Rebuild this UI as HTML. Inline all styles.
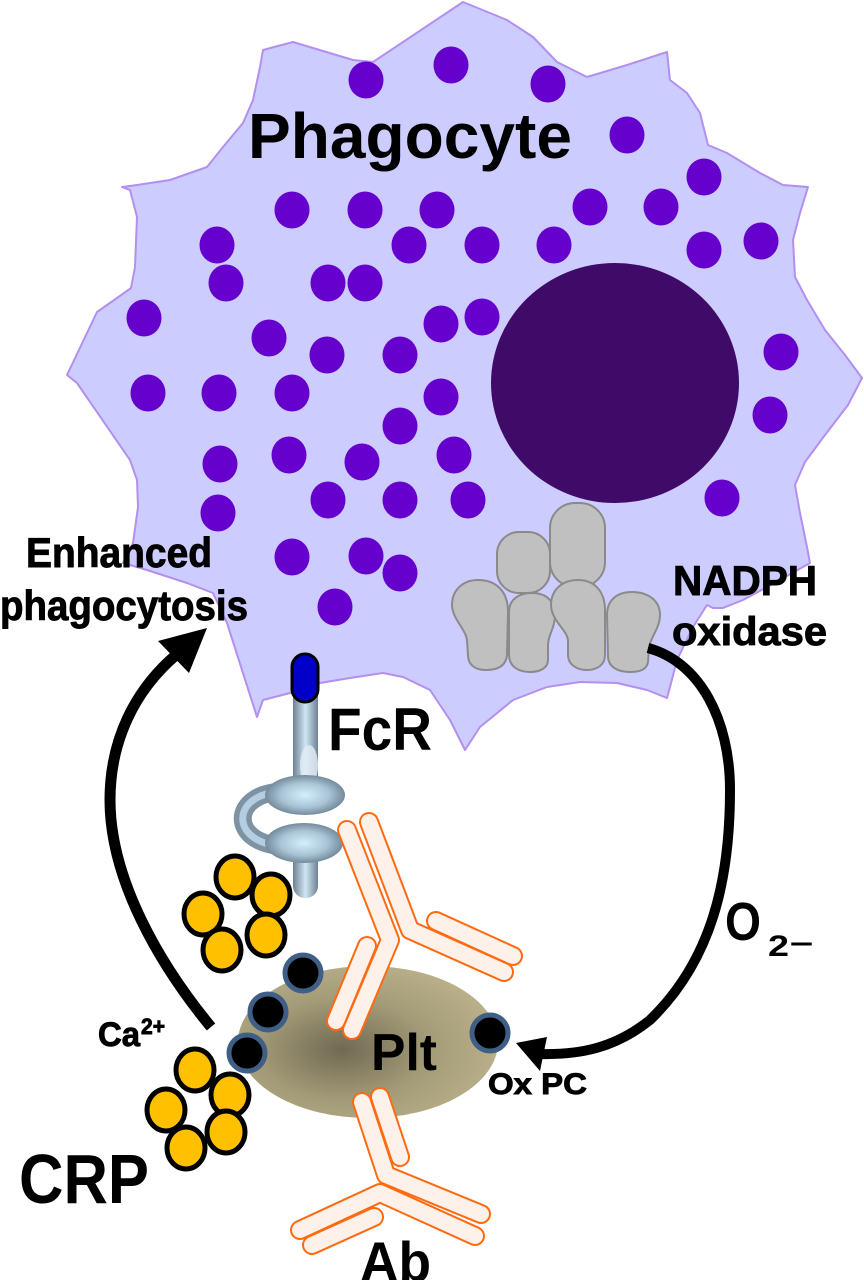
<!DOCTYPE html>
<html>
<head>
<meta charset="utf-8">
<style>
  html,body{margin:0;padding:0;background:#ffffff;}
  svg{display:block;}
  text{font-family:"Liberation Sans",Arial,sans-serif;font-weight:bold;fill:#000;}
  .hv{stroke:#000;stroke-width:0.9;}
</style>
</head>
<body>
<svg width="864" height="1280" viewBox="0 0 864 1280" xmlns="http://www.w3.org/2000/svg">
  <defs>
    <linearGradient id="stemG" x1="0" y1="0" x2="1" y2="0">
      <stop offset="0" stop-color="#6c8292"/>
      <stop offset="0.5" stop-color="#cfe6f5"/>
      <stop offset="1" stop-color="#6c8292"/>
    </linearGradient>
    <radialGradient id="discG" cx="0.5" cy="0.5" r="0.55">
      <stop offset="0" stop-color="#d4eefc"/>
      <stop offset="0.55" stop-color="#a9c4d6"/>
      <stop offset="1" stop-color="#667c8c"/>
    </radialGradient>
    <radialGradient id="pltG" cx="0.4" cy="0.55" r="0.6">
      <stop offset="0" stop-color="#716a53"/>
      <stop offset="0.55" stop-color="#a39a77"/>
      <stop offset="1" stop-color="#b9b08a"/>
    </radialGradient>
  </defs>

  <!-- Cell body -->
  <path d="M463,2 L507,20 L533,37 L557,62 L587,77 L627,65 L667,52 L670,80 L687,93 L700,113 L708,145 L727,153 L760,173 L783,185 L808,187 L800,213 L793,240 L795,277 L807,300 L825,330 L845,355 L862,378 L848,405 L825,435 L805,462 L795,485 L800,513 L807,547 L810,563 L780,580 L743,600 L723,608 L713,608 L707,605 L693,627 L677,660 L670,687 L667,698 L647,690 L617,683 L580,682 L547,687 L513,700 L480,727 L465,750 L450,720 L430,690 L403,677 L383,673 L350,678 L320,683 L290,693 L263,700 L257,717 L227,623 L213,593 L187,583 L147,570 L123,563 L133,543 L138,507 L137,480 L130,460 L77,383 L67,375 L97,312 L117,298 L131,288 L135,267 L137,217 L130,190 L122,187 L137,185 L170,180 L207,167 L223,147 L243,123 L253,100 L260,67 L263,50 L293,42 L353,60 L373,62 Z" fill="#ccccff" stroke="#b38ff0" stroke-width="2" stroke-linejoin="round"/>

  <!-- Granules -->
  <g fill="#6600cc">
    <ellipse cx="366" cy="80" rx="17.5" ry="18.5"/>
    <ellipse cx="451" cy="65" rx="17.5" ry="18.5"/>
    <ellipse cx="548" cy="84" rx="17.5" ry="18.5"/>
    <ellipse cx="627" cy="135" rx="17.5" ry="18.5"/>
    <ellipse cx="704" cy="177" rx="17.5" ry="18.5"/>
    <ellipse cx="292" cy="210" rx="17.5" ry="18.5"/>
    <ellipse cx="365" cy="210" rx="17.5" ry="18.5"/>
    <ellipse cx="437" cy="210" rx="17.5" ry="18.5"/>
    <ellipse cx="590" cy="207" rx="17.5" ry="18.5"/>
    <ellipse cx="661" cy="207" rx="17.5" ry="18.5"/>
    <ellipse cx="217" cy="245" rx="17.5" ry="18.5"/>
    <ellipse cx="409" cy="245" rx="17.5" ry="18.5"/>
    <ellipse cx="482" cy="245" rx="17.5" ry="18.5"/>
    <ellipse cx="554" cy="245" rx="17.5" ry="18.5"/>
    <ellipse cx="704" cy="250" rx="17.5" ry="18.5"/>
    <ellipse cx="761" cy="241" rx="17.5" ry="18.5"/>
    <ellipse cx="226" cy="283" rx="17.5" ry="18.5"/>
    <ellipse cx="328" cy="283" rx="17.5" ry="18.5"/>
    <ellipse cx="365" cy="283" rx="17.5" ry="18.5"/>
    <ellipse cx="144" cy="318" rx="17.5" ry="18.5"/>
    <ellipse cx="269" cy="338" rx="17.5" ry="18.5"/>
    <ellipse cx="327" cy="355" rx="17.5" ry="18.5"/>
    <ellipse cx="400" cy="355" rx="17.5" ry="18.5"/>
    <ellipse cx="441" cy="324" rx="17.5" ry="18.5"/>
    <ellipse cx="482" cy="317" rx="17.5" ry="18.5"/>
    <ellipse cx="781" cy="352" rx="17.5" ry="18.5"/>
    <ellipse cx="148" cy="393" rx="17.5" ry="18.5"/>
    <ellipse cx="219" cy="393" rx="17.5" ry="18.5"/>
    <ellipse cx="292" cy="393" rx="17.5" ry="18.5"/>
    <ellipse cx="441" cy="397" rx="17.5" ry="18.5"/>
    <ellipse cx="770" cy="415" rx="17.5" ry="18.5"/>
    <ellipse cx="400" cy="426" rx="17.5" ry="18.5"/>
    <ellipse cx="220" cy="464" rx="17.5" ry="18.5"/>
    <ellipse cx="289" cy="455" rx="17.5" ry="18.5"/>
    <ellipse cx="362" cy="462" rx="17.5" ry="18.5"/>
    <ellipse cx="454" cy="455" rx="17.5" ry="18.5"/>
    <ellipse cx="328" cy="500" rx="17.5" ry="18.5"/>
    <ellipse cx="400" cy="500" rx="17.5" ry="18.5"/>
    <ellipse cx="468" cy="500" rx="17.5" ry="18.5"/>
    <ellipse cx="218" cy="513" rx="17.5" ry="18.5"/>
    <ellipse cx="722" cy="498" rx="17.5" ry="18.5"/>
    <ellipse cx="292" cy="557" rx="17.5" ry="18.5"/>
    <ellipse cx="366" cy="556" rx="17.5" ry="18.5"/>
    <ellipse cx="400" cy="573" rx="17.5" ry="18.5"/>
    <ellipse cx="335" cy="607" rx="17.5" ry="18.5"/>
  </g>

  <!-- Nucleus -->
  <ellipse cx="615" cy="383" rx="124" ry="120" fill="#3f0a68"/>

  <!-- NADPH oxidase -->
  <g fill="#c0c0c0" stroke="#8a8a8a" stroke-width="2">
    <rect x="497" y="532" width="53" height="61" rx="22"/>
    <rect x="550" y="503" width="55" height="84" rx="25"/>
    <path d="M478,580 C495,580 508,590 508,612 L507,655 C506,666 498,670 486,670 C474,670 468,664 468,655 L467,640 C466,630 452,618 452,605 C452,590 463,580 478,580 Z"/>
    <path d="M532,593 C548,593 555,603 555,615 C555,628 548,635 548,645 L548,660 C548,668 540,672 530,672 C518,672 509,666 509,655 L509,612 C509,600 518,593 532,593 Z"/>
    <path d="M578,580 C595,580 605,592 605,610 L605,655 C605,665 597,670 587,670 C576,670 568,664 568,655 L568,640 C567,630 551,620 551,605 C551,590 562,580 578,580 Z"/>
    <path d="M632,592 C650,592 660,602 660,615 C660,628 650,638 649,648 L648,662 C647,669 640,672 630,672 C618,672 608,667 608,656 L607,615 C607,600 617,592 632,592 Z"/>
  </g>

  <!-- Labels in cell -->
  <text x="248" y="158" font-size="64" textLength="324" lengthAdjust="spacingAndGlyphs">Phagocyte</text>
  <text class="hv" x="26" y="567" font-size="42" textLength="186" lengthAdjust="spacingAndGlyphs">Enhanced</text>
  <text class="hv" x="0" y="620" font-size="42" textLength="248" lengthAdjust="spacingAndGlyphs">phagocytosis</text>
  <text class="hv" x="673" y="595" font-size="42" textLength="144" lengthAdjust="spacingAndGlyphs">NADPH</text>
  <text class="hv" x="672" y="645" font-size="40" textLength="155" lengthAdjust="spacingAndGlyphs">oxidase</text>

  <!-- Arrows -->
  <path d="M211,1027 C160,965 110,880 110,800 C110,740 135,690 176,655" fill="none" stroke="#000" stroke-width="11" stroke-linecap="butt"/>
  <polygon points="207,628 158,641 189,673" fill="#000"/>
  <path d="M648,648 C700,662 730,720 730,790 C730,880 712,960 650,1020 C615,1048 580,1055 540,1054" fill="none" stroke="#000" stroke-width="10"/>
  <polygon points="516,1043 547,1037 540,1071" fill="#000"/>

  <!-- FcR -->
  <rect x="293" y="850" width="25" height="48" rx="12" fill="url(#stemG)"/>
  <path d="M290,792 C228,788 226,848 290,846" fill="none" stroke="#7d93a3" stroke-width="18"/>
  <path d="M290,792 C228,788 226,848 290,846" fill="none" stroke="#b4cde0" stroke-width="7"/>
  <rect x="293" y="695" width="25" height="88" fill="url(#stemG)"/>
  <ellipse cx="309" cy="765" rx="9" ry="20" fill="#e2eef6" opacity="0.8"/>
  <ellipse cx="305" cy="795" rx="40" ry="20" fill="url(#discG)"/>
  <ellipse cx="304" cy="843" rx="39" ry="20" fill="url(#discG)"/>
  <rect x="292" y="654" width="26" height="48" rx="13" fill="#0000c8" stroke="#000" stroke-width="3"/>
  <text x="328" y="750" font-size="60" textLength="104" lengthAdjust="spacingAndGlyphs">FcR</text>

  <!-- O2- label -->
  <text x="725" y="940" font-size="54" textLength="36" lengthAdjust="spacingAndGlyphs">O</text>
  <text x="768" y="956" font-size="30" textLength="21" lengthAdjust="spacingAndGlyphs">2</text>
  <text x="790" y="952" font-size="30" textLength="23" lengthAdjust="spacingAndGlyphs">–</text>

  <!-- Platelet -->
  <ellipse cx="368" cy="1042" rx="130" ry="76" fill="url(#pltG)"/>

  <!-- Antibodies -->
  <g fill="none" stroke-linecap="round" stroke-linejoin="round">
    <path d="M347,830 L390,940 L352,1030" stroke="#ff6a10" stroke-width="20"/>
    <path d="M347,830 L390,940 L352,1030" stroke="#fdf1ea" stroke-width="16"/>
    <path d="M369,822 L410,930 L504,972" stroke="#ff6a10" stroke-width="20"/>
    <path d="M369,822 L410,930 L504,972" stroke="#fdf1ea" stroke-width="16"/>
    <path d="M367,946 L336,1021" stroke="#ff6a10" stroke-width="20"/>
    <path d="M367,946 L336,1021" stroke="#fdf1ea" stroke-width="16"/>
    <path d="M436,921 L513,956" stroke="#ff6a10" stroke-width="20"/>
    <path d="M436,921 L513,956" stroke="#fdf1ea" stroke-width="16"/>
    <path d="M362,1102 L386,1175 L481,1214" stroke="#ff6a10" stroke-width="20"/>
    <path d="M362,1102 L386,1175 L481,1214" stroke="#fdf1ea" stroke-width="16"/>
    <path d="M380,1097 L400,1157" stroke="#ff6a10" stroke-width="20"/>
    <path d="M380,1097 L400,1157" stroke="#fdf1ea" stroke-width="16"/>
    <path d="M300,1230 L380,1193 L475,1236" stroke="#ff6a10" stroke-width="20"/>
    <path d="M300,1230 L380,1193 L475,1236" stroke="#fdf1ea" stroke-width="16"/>
    <path d="M374,1217 L312,1245" stroke="#ff6a10" stroke-width="20"/>
    <path d="M374,1217 L312,1245" stroke="#fdf1ea" stroke-width="16"/>
  </g>

  <!-- CRP pentamers -->
  <g fill="#ffc000" stroke="#000" stroke-width="5">
    <ellipse cx="235" cy="877" rx="19" ry="21"/>
    <ellipse cx="271" cy="895" rx="19" ry="21"/>
    <ellipse cx="203" cy="914" rx="19" ry="21"/>
    <ellipse cx="266" cy="935" rx="19" ry="21"/>
    <ellipse cx="222" cy="950" rx="19" ry="21"/>
    <ellipse cx="195" cy="1070" rx="19" ry="21"/>
    <ellipse cx="230" cy="1095" rx="19" ry="21"/>
    <ellipse cx="166" cy="1110" rx="19" ry="21"/>
    <ellipse cx="226" cy="1132" rx="19" ry="21"/>
    <ellipse cx="186" cy="1148" rx="19" ry="21"/>
  </g>

  <!-- Ox PC dots -->
  <g fill="#000" stroke="#3f5f86" stroke-width="5">
    <circle cx="303" cy="973" r="18"/>
    <circle cx="268" cy="1012" r="18"/>
    <circle cx="247" cy="1053" r="18"/>
    <circle cx="490" cy="1033" r="18"/>
  </g>

  <!-- Lower labels -->
  <text x="371" y="1070" font-size="52" textLength="66" lengthAdjust="spacingAndGlyphs">Plt</text>
  <text class="hv" x="488" y="1094" font-size="30" textLength="99" lengthAdjust="spacingAndGlyphs">Ox PC</text>
  <text class="hv" x="98" y="1046" font-size="34" textLength="42" lengthAdjust="spacingAndGlyphs">Ca</text>
  <text class="hv" x="141" y="1034" font-size="22" textLength="24" lengthAdjust="spacingAndGlyphs">2+</text>
  <text x="19" y="1203" font-size="70" textLength="130" lengthAdjust="spacingAndGlyphs">CRP</text>
  <text x="360" y="1281" font-size="56" textLength="71" lengthAdjust="spacingAndGlyphs">Ab</text>
</svg>
</body>
</html>
